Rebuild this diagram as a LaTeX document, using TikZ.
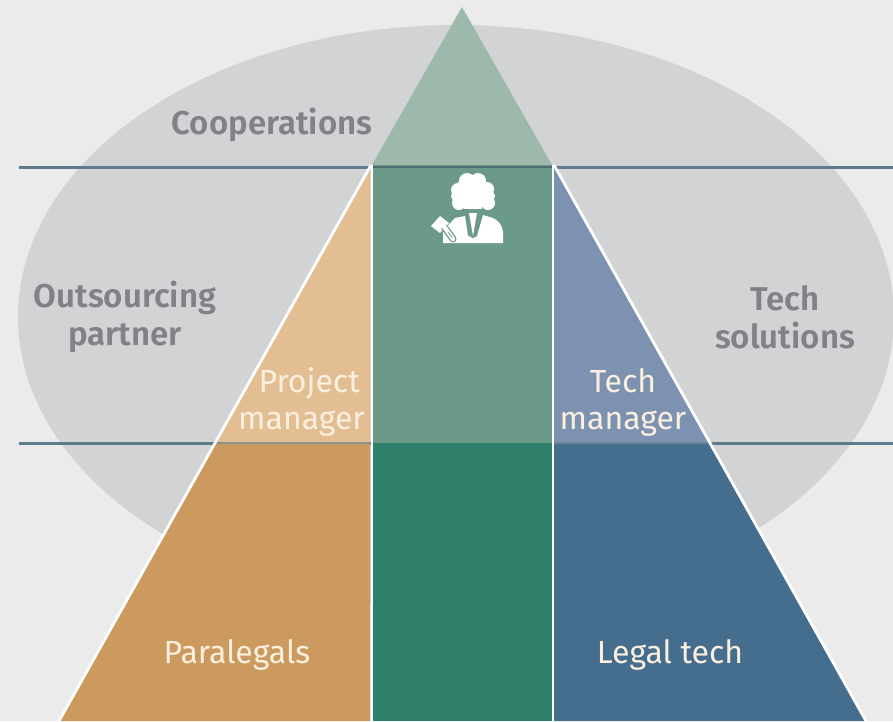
\documentclass[tikz,border=0pt]{standalone}
\usepackage{fontspec}
\setmainfont[BoldFont={Fira Sans SemiBold}]{Fira Sans}
\definecolor{bgc}{HTML}{EBEBEB}
\definecolor{ell}{HTML}{D2D3D5}
\definecolor{rulec}{HTML}{5E7B8C}
\definecolor{topg}{HTML}{9DB9AB}
\definecolor{midg}{HTML}{6C9A89}
\definecolor{lowg}{HTML}{2E806B}
\definecolor{lito}{HTML}{E2BE92}
\definecolor{dko}{HTML}{CC9A5E}
\definecolor{litb}{HTML}{7D92B0}
\definecolor{dkb}{HTML}{456D8E}
\definecolor{grayt}{HTML}{808285}
\definecolor{creamt}{HTML}{FBF0E0}
\tikzset{
  hrule/.style={draw=rulec,line width=2.4pt},
  sep/.style={draw=white,line width=2.8pt},
  graylabel/.style={text=grayt,font=\fontsize{33}{38}\selectfont\bfseries,align=center,inner sep=0pt},
  lightlabel/.style={text=creamt,font=\fontsize{32}{37}\selectfont,align=center,inner sep=0pt},
  whitefill/.style={fill=white,draw=none}
}
\begin{document}
\begin{tikzpicture}[x=1pt,y=-1pt]
\useasboundingbox (0,0) rectangle (893,721);
\fill[bgc] (0,0) rectangle (893,721);
\fill[ell] (456,317) ellipse [x radius=438,y radius=292];
% horizontal rules
\draw[hrule] (19,167.5) -- (893,167.5);
\draw[hrule] (19,443.5) -- (893,443.5);
% centre column
\fill[topg] (462,7) -- (552,165) -- (372,165) -- cycle;
\fill[midg] (372,165) rectangle (552,443);
\fill[lowg] (372,443) rectangle (552,721);
% left
\fill[lito] (370,165) -- (370,443) -- (215,443) -- cycle;
\fill[dko] (215,443) -- (370,443) -- (370,721) -- (60,721) -- cycle;
% right
\fill[litb] (554,165) -- (554,443) -- (709,443) -- cycle;
\fill[dkb] (554,443) -- (709,443) -- (865,721) -- (554,721) -- cycle;
\draw[hrule,draw=midg!45!rulec!80!black] (372,167) -- (552,167);
\draw[line width=1.6pt,draw=lito!35!rulec] (215,443) -- (370,443);
\draw[line width=1.6pt,draw=litb!40!rulec] (554,443) -- (709,443);
% white separators
\draw[sep] (372,165) -- (372,721);
\draw[sep] (553,165) -- (553,721);
\draw[sep] (371,165) -- (59,721);
\draw[sep] (554,165) -- (866,721);
% labels
\node[graylabel] (coop) at (272,125) {Cooperations};
\node[graylabel] (outs) at (125,317) {Outsourcing\\partner};
\node[graylabel] (tech) at (785,317) {Tech\\solutions};
\node[lightlabel,align=right,anchor=east] (pm) at (365,402) {Project\hspace*{5pt}\\manager};
\node[lightlabel,align=center] (tm) at (623,402) {Tech\\manager};
\node[lightlabel] (para) at (237,655) {Paralegals};
\node[lightlabel] (legal) at (670,655) {Legal tech};
% icon: wig
\foreach \cx/\cy/\r in {467/181/8,478/181/8,458/190/7,487/189/7,456/196/5,490/196/5,459/203/7,488/203/7}
  \fill[whitefill] (\cx,\cy) circle [radius=\r];
\fill[whitefill] (458,182) rectangle (488,205);
\fill[whitefill] (464,200) rectangle (482,209);
% icon: robe
\fill[whitefill] (443,243) -- (443,231) -- (455,218) -- (465,216) -- (468,236) -- (477,236) -- (483,215) -- (493,218) .. controls (499,221) and (503,226) .. (503,233) -- (503,243) -- cycle;
\fill[midg] (466.5,214) -- (469,236) -- (473,238) -- (477,236) -- (479.5,214) -- cycle;
\fill[whitefill] (469,213) -- (477,213) -- (473,236) -- cycle;
% icon: gavel
\fill[whitefill] (431,226) -- (440,216) -- (449,223) -- (440,233) -- cycle;
\draw[midg,line width=7pt,line cap=round] (445,228) -- (453,239);
\draw[white,line width=4.4pt,line cap=round] (443,225) -- (453,239);
\draw[midg,line width=0.7pt] (448,232) -- (452.5,238);
\end{tikzpicture}
\end{document}
